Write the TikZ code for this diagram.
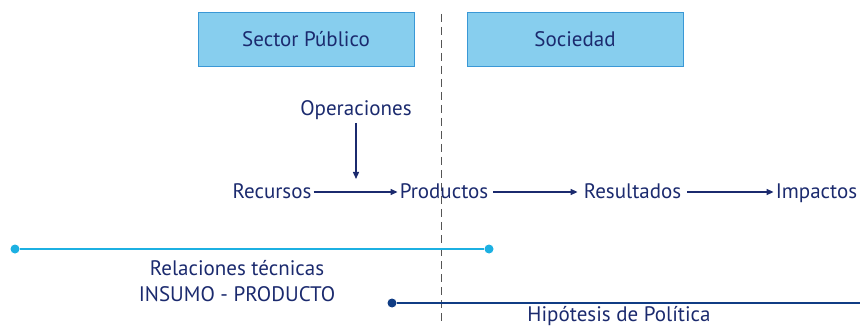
\documentclass[tikz,border=0pt]{standalone}
\usepackage{fontspec}
\setmainfont{PT Sans}
\usetikzlibrary{arrows.meta}
\definecolor{navy}{HTML}{1B2A6E}
\definecolor{boxfill}{HTML}{87CEEE}
\definecolor{boxdraw}{HTML}{3A98D6}
\definecolor{lightln}{HTML}{1CB0E2}
\definecolor{darkln}{HTML}{103C84}
\definecolor{dashgray}{HTML}{555555}
\begin{document}
\begin{tikzpicture}[x=1pt,y=-1pt,
  lbl/.style={text=navy,font=\fontsize{21}{26}\selectfont,inner xsep=2pt,inner ysep=0pt,text height=14pt,text depth=0pt},
  hdr/.style={draw=boxdraw,line width=0.8pt,fill=boxfill,minimum width=216pt,minimum height=54pt,text=navy,font=\fontsize{21}{24}\selectfont},
  arr/.style={draw=navy,line width=1.4pt,-{Triangle[length=7pt,width=6pt]}},
  dot/.style={circle,inner sep=0pt,minimum size=9pt}]
\useasboundingbox (0,0) rectangle (860,326);
% divider
\coordinate (dtop) at (441,14);
\coordinate (dbot) at (441,326);
\draw[dashgray,line width=1pt,dash pattern=on 8pt off 5pt] (dtop) -- (dbot);
% headers
\node[hdr] (sp) at (306,39) {Sector Público};
\node[hdr] (soc) at (575,39) {Sociedad};
% chain
\node[lbl] (ope) at (356,109) {Operaciones};
\coordinate (opetop) at (356,123);
\coordinate (opetip) at (356,179);
\node[lbl] (rec) at (272,192) {Recursos};
\node[lbl] (prod) at (444,192) {Productos};
\node[lbl] (res) at (632.5,192) {Resultados};
\node[lbl] (imp) at (816.5,192) {Impactos};
\draw[arr] (opetop) -- (opetip);
\draw[arr] (rec.east) -- (prod.west);
\draw[arr] ([xshift=3pt]prod.east) -- ([xshift=-4pt]res.west);
\draw[arr] ([xshift=4pt]res.east) -- (imp.west);
% technical relations line
\node[dot,fill=lightln] (l1) at (15,249) {};
\node[dot,fill=lightln] (l2) at (489,249) {};
\draw[lightln,line width=2.2pt] (l1) -- (l2);
\node[text=navy,font=\fontsize{21}{26}\selectfont,align=center] (rel) at (237,281) {Relaciones técnicas\\INSUMO - PRODUCTO};
% policy hypothesis line
\node[dot,fill=darkln] (d1) at (392,303) {};
\coordinate (d2) at (860,303);
\draw[darkln,line width=2.5pt] (d1) -- (d2);
\node[text=navy,font=\fontsize{21}{26}\selectfont,anchor=base] (hip) at (619,321) {Hipótesis de Política};
\end{tikzpicture}
\end{document}
